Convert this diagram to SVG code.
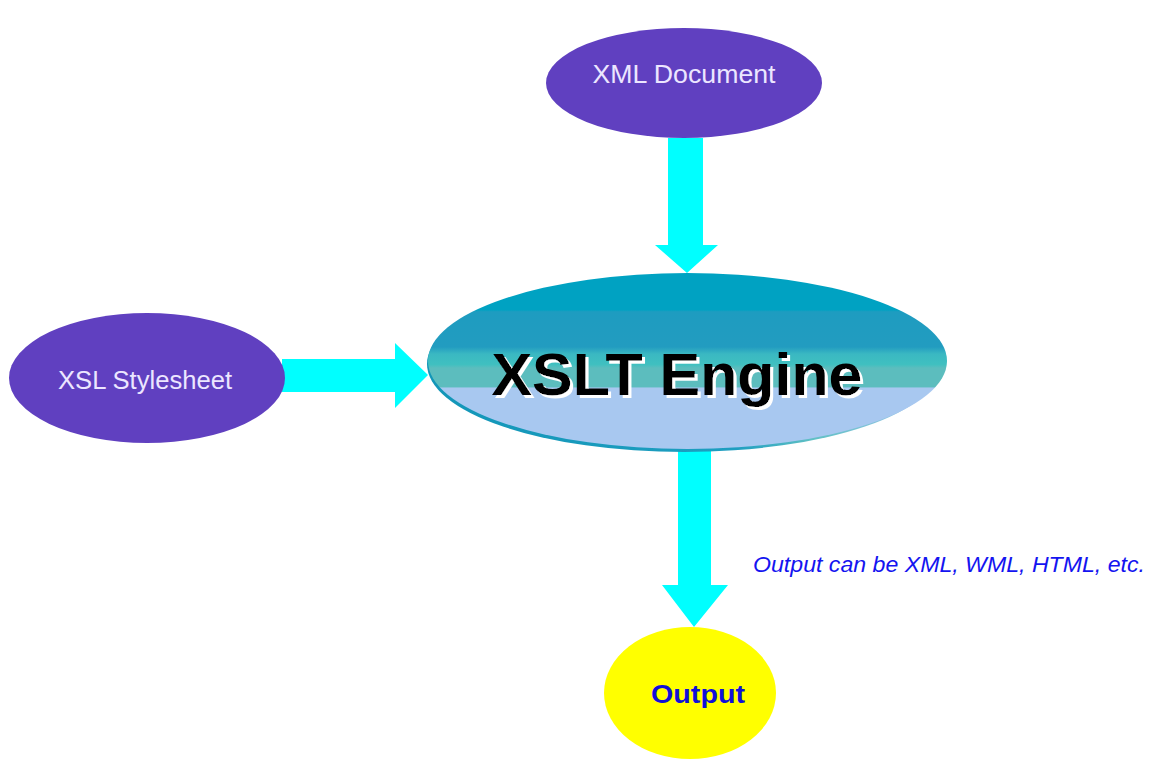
<svg xmlns="http://www.w3.org/2000/svg" width="1155" height="759" viewBox="0 0 1155 759">
  <style>
    .src { fill: #6040C0; }
    .src-label { font-family: "Liberation Sans", Arial, sans-serif; font-size: 25px; fill: #ECE6FF; text-anchor: middle; }
    .flow { fill: #00FFFF; }
    .engine-label { font-family: "Liberation Sans", Arial, sans-serif; font-size: 60px; font-weight: bold; fill: #000000; text-anchor: middle; }
    .out-label { font-family: "Liberation Sans", Arial, sans-serif; font-size: 26px; font-weight: bold; fill: #1010D8; text-anchor: middle; }
    .note { font-family: "Liberation Sans", Arial, sans-serif; font-size: 22px; font-style: italic; fill: #1414F0; }
  </style>
  <defs>
    <!-- banded fill of the engine: deep teal on top, pale blue below -->
    <linearGradient id="engineFill" x1="0" y1="273" x2="0" y2="449" gradientUnits="userSpaceOnUse">
      <stop offset="0" stop-color="#00A2C2"/>
      <stop offset="0.21" stop-color="#00A2C2"/>
      <stop offset="0.22" stop-color="#1E9CC0"/>
      <stop offset="0.42" stop-color="#229CC0"/>
      <stop offset="0.46" stop-color="#3AB8C2"/>
      <stop offset="0.52" stop-color="#40C0C0"/>
      <stop offset="0.54" stop-color="#5CBDBE"/>
      <stop offset="0.645" stop-color="#5CBDBE"/>
      <stop offset="0.655" stop-color="#A8C8F0"/>
      <stop offset="1" stop-color="#A8C8F0"/>
    </linearGradient>
    <linearGradient id="engineRim" x1="0" y1="0" x2="1" y2="0">
      <stop offset="0" stop-color="#1296B8"/>
      <stop offset="0.6" stop-color="#1E9EC0"/>
      <stop offset="0.75" stop-color="#60C0C4"/>
      <stop offset="1" stop-color="#A8C8F0"/>
    </linearGradient>
    <!-- white drop shadow behind the engine title -->
    <filter id="whiteShadow" x="-5%" y="-20%" width="110%" height="140%">
      <feOffset in="SourceAlpha" dx="3" dy="3" result="off"/>
      <feFlood flood-color="#FFFFFF"/>
      <feComposite in2="off" operator="in" result="shadow"/>
      <feMerge>
        <feMergeNode in="shadow"/>
        <feMergeNode in="SourceGraphic"/>
      </feMerge>
    </filter>
  </defs>

  <rect x="0" y="0" width="1155" height="759" fill="#FFFFFF"/>

  <!-- block arrows between the stages -->
  <g id="connectors">
    <polygon class="flow" points="668,138 703,138 703,245 718,245 687,273 655,245 668,245"/>
    <polygon class="flow" points="282,359 395,359 395,343 428,375 395,408 395,392 282,392"/>
    <polygon class="flow" points="678,446 711,446 711,585 728,585 694,627 662,585 678,585"/>
  </g>

  <g id="xml-document">
    <ellipse class="src" cx="684" cy="83" rx="138" ry="55"/>
    <text class="src-label" x="684" y="83" textLength="183" lengthAdjust="spacingAndGlyphs">XML Document</text>
  </g>

  <g id="xsl-stylesheet">
    <ellipse class="src" cx="147" cy="378" rx="138" ry="65"/>
    <text class="src-label" x="145" y="389" textLength="174" lengthAdjust="spacingAndGlyphs">XSL Stylesheet</text>
  </g>

  <g id="xslt-engine">
    <ellipse cx="684" cy="364" rx="257" ry="88" fill="url(#engineRim)"/>
    <ellipse cx="687.5" cy="361" rx="259.5" ry="88" fill="url(#engineFill)"/>
    <text class="engine-label" x="677" y="395" filter="url(#whiteShadow)" textLength="371" lengthAdjust="spacingAndGlyphs">XSLT Engine</text>
  </g>

  <g id="output">
    <ellipse cx="690" cy="693" rx="86" ry="66" fill="#FFFF00"/>
    <text class="out-label" x="698" y="703" textLength="94" lengthAdjust="spacingAndGlyphs">Output</text>
  </g>

  <text class="note" x="753" y="572" textLength="392" lengthAdjust="spacingAndGlyphs">Output can be XML, WML, HTML, etc.</text>
</svg>
